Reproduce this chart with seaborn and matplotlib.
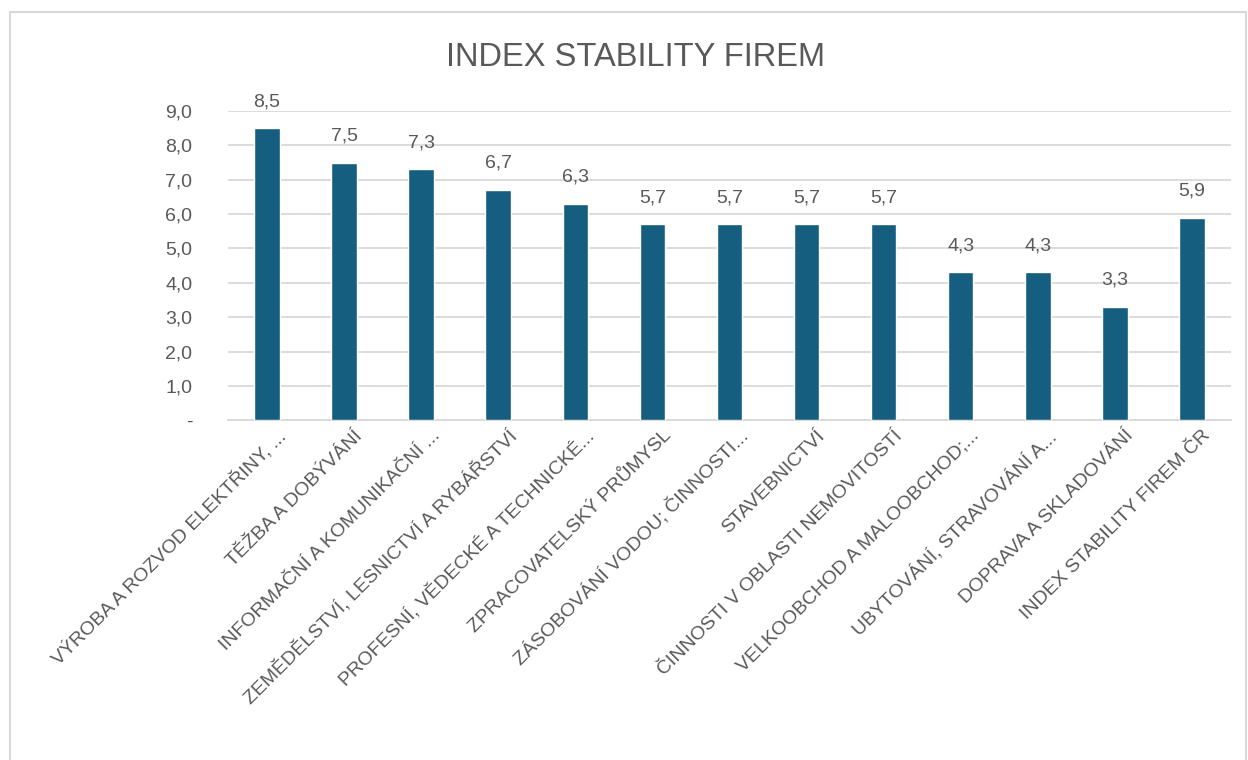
import matplotlib
matplotlib.use("Agg")
import matplotlib.pyplot as plt
import matplotlib.transforms as mtransforms
import seaborn as sns
import pandas as pd
from matplotlib.patches import Rectangle

# Data
categories = [
    "VÝROBA A ROZVOD ELEKTŘINY, ...",
    "TĚŽBA A DOBÝVÁNÍ",
    "INFORMAČNÍ A KOMUNIKAČNÍ ...",
    "ZEMĚDĚLSTVÍ, LESNICTVÍ A RYBÁŘSTVÍ",
    "PROFESNÍ, VĚDECKÉ A TECHNICKÉ...",
    "ZPRACOVATELSKÝ PRŮMYSL",
    "ZÁSOBOVÁNÍ VODOU; ČINNOSTI...",
    "STAVEBNICTVÍ",
    "ČINNOSTI V OBLASTI NEMOVITOSTÍ",
    "VELKOOBCHOD A MALOOBCHOD;...",
    "UBYTOVÁNÍ, STRAVOVÁNÍ A...",
    "DOPRAVA A SKLADOVÁNÍ",
    "INDEX STABILITY FIREM ČR",
]
values = [8.5, 7.5, 7.3, 6.7, 6.3, 5.7, 5.7, 5.7, 5.7, 4.3, 4.3, 3.3, 5.9]
y_ticks = [0, 1, 2, 3, 4, 5, 6, 7, 8, 9]
y_tick_labels = ["-", "1,0", "2,0", "3,0", "4,0", "5,0", "6,0", "7,0", "8,0", "9,0"]
title = "INDEX STABILITY FIREM"

df = pd.DataFrame({"kategorie": categories, "hodnota": values})

sns.set_style("white")
plt.rcParams["font.family"] = ["Liberation Sans", "DejaVu Sans"]
txt = "#595959"
bar_color = "#165e80"

fig = plt.figure(figsize=(12.48, 7.6), dpi=100)
ax = fig.add_axes([0.183, 0.447, 0.803, 0.407])

sns.barplot(data=df, x="kategorie", y="hodnota", color=bar_color,
            width=0.33, saturation=1, ax=ax, zorder=3)

ax.set_ylim(0, 9)
ax.set_xlim(-0.5, len(categories) - 0.5)
ax.set_yticks(y_ticks)
ax.set_yticklabels(y_tick_labels)
ax.yaxis.grid(True, color="#d9d9d9", linewidth=1.3, zorder=0)
ax.set_axisbelow(True)
for s in ["top", "right", "left"]:
    ax.spines[s].set_visible(False)
ax.spines["bottom"].set_color("#d9d9d9")
ax.spines["bottom"].set_linewidth(1.3)
ax.set_xlabel("")
ax.set_ylabel("")
ax.tick_params(axis="y", length=0, labelsize=14, labelcolor=txt, pad=26)
ax.tick_params(axis="x", length=0, labelsize=14, labelcolor=txt, pad=5)
plt.setp(ax.get_xticklabels(), rotation=45, ha="right", rotation_mode="anchor")
# nudge the rotated labels a little to the right, like Excel does
shift = mtransforms.ScaledTranslation(10 / 100, 0, fig.dpi_scale_trans)
for lbl in ax.get_xticklabels():
    lbl.set_transform(lbl.get_transform() + shift)

# value labels
for i, v in enumerate(values):
    ax.annotate(f"{v:.1f}".replace(".", ","), (i, v), xytext=(0, 13),
                textcoords="offset points", ha="center", va="bottom",
                fontsize=14, color=txt)

fig.text(0.509, 0.925, title, ha="center", va="center", fontsize=23.5, color=txt)

# outer chart frame
fig.patches.append(Rectangle((0.008, -0.02), 0.99, 1 - 12 / 760 + 0.02,
                             transform=fig.transFigure, fill=False,
                             edgecolor="#d9d9d9", linewidth=1.5))

fig.savefig("out.png", dpi=100)
